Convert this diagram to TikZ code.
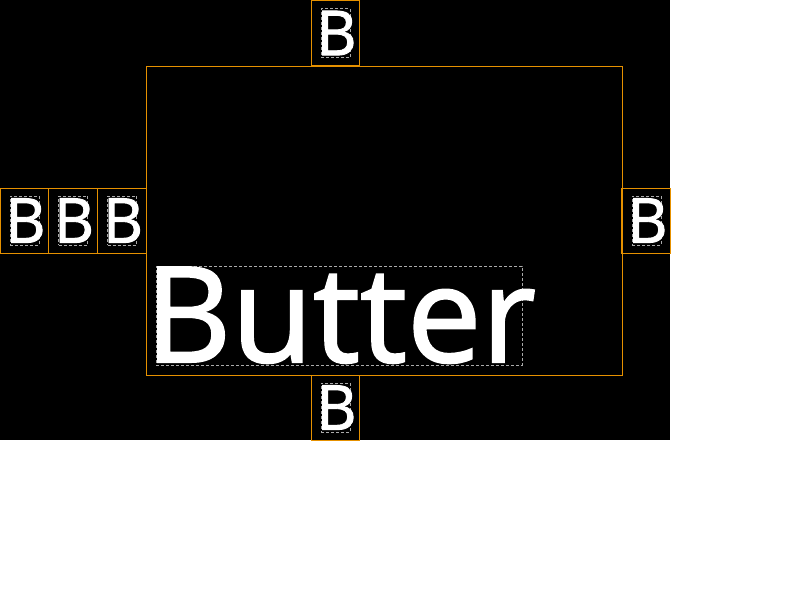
\documentclass[tikz,border=0pt]{standalone}
\usepackage{fontspec}
\setmainfont{Open Sans}
\newfontfamily\heavysans[FakeBold=1.5]{Open Sans}
\usepackage{xcolor}
\definecolor{frameorange}{RGB}{230,145,0}
\definecolor{dashgray}{RGB}{170,170,170}

\begin{document}
\begin{tikzpicture}[x=1pt,y=-1pt,
    cell/.style={draw=frameorange,line width=1pt,minimum width=48pt,minimum height=65pt,inner sep=0pt},
    guide/.style={draw=dashgray,line width=0.8pt,dash pattern=on 3pt off 2pt,inner sep=0pt,minimum width=29pt,minimum height=49pt},
    glyph/.style={text=white,inner sep=0pt,font=\heavysans\fontsize{62}{62}\selectfont},
    big/.style={text=white,inner sep=0pt,anchor=base west,font=\heavysans\fontsize{133}{133}\selectfont}
  ]
    % Canvas
    \useasboundingbox (0,0) rectangle (800,600);
    \fill[white] (0,0) rectangle (800,600);
    \fill[black] (0,0) rectangle (670,440);

    % Main frame
    \node[draw=frameorange,line width=1pt,inner sep=0pt,minimum width=476pt,minimum height=309pt] (frame) at (384,220.5) {};

    % Cells round the frame
    \node[cell] (top) at (335,33) {};
    \node[cell] (bottom) at (335,407.5) {};
    \node[cell,minimum width=49pt] (right) at (646,220.5) {};
    \node[cell] (leftA) at (24,220.5) {};
    \node[cell,minimum width=49pt] (leftB) at (72.5,220.5) {};
    \node[cell,minimum width=49pt] (leftC) at (121.5,220.5) {};

    % Dashed guides, then letters on top
    \foreach \c in {top,bottom,right,leftA,leftB,leftC}
      \node[guide] (\c G) at ([xshift=0.5pt]\c.center) {};
    \foreach \c in {top,bottom,right,leftA,leftB,leftC}
      \node[glyph] (\c B) at ([xshift=1.5pt]\c.center) {B};

    % Big label
    \node[guide,minimum width=366pt,minimum height=99pt] (butterG) at (339,315.5) {};
    \node[big] (butter) at (145,362) {Butter};
\end{tikzpicture}
\end{document}
